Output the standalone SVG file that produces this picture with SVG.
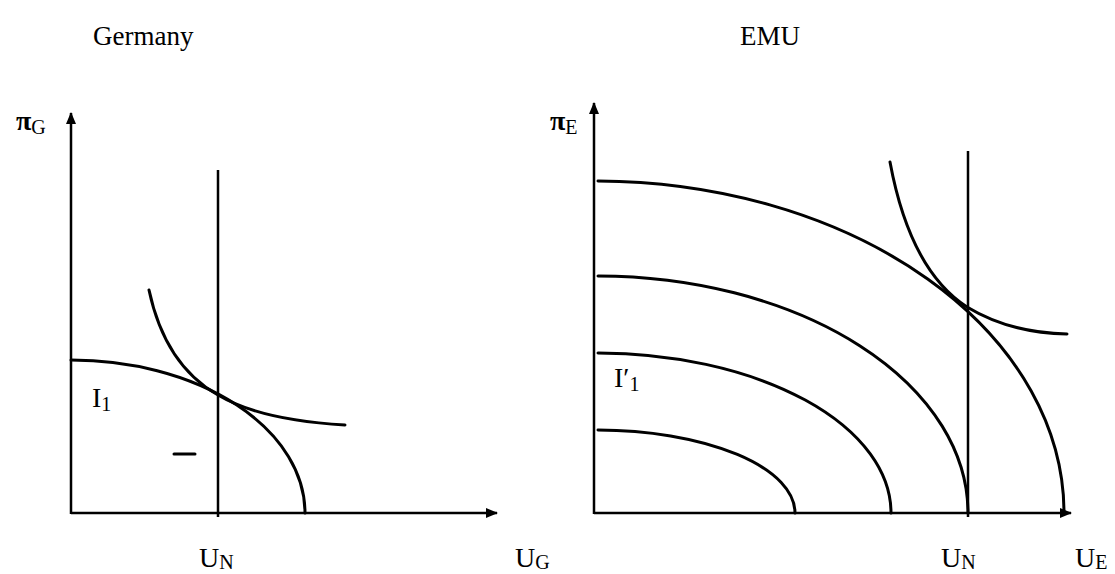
<svg xmlns="http://www.w3.org/2000/svg" width="1115" height="574" viewBox="0 0 1115 574">
<defs>
<marker id="ah" viewBox="0 0 12 10" refX="11" refY="5" markerWidth="12" markerHeight="10" markerUnits="userSpaceOnUse" orient="auto">
<path d="M0,0 L12,5 L0,10 Z" fill="#000"/>
</marker>
</defs>
<style>
text{font-family:"Liberation Serif","Times New Roman",serif;fill:#000}
.t{font-size:27px}
.l{font-size:28px}
.p{font-size:28px;font-weight:bold}
.s{font-size:20px}
.ax{stroke:#000;stroke-width:2.5;fill:none}
.c{stroke:#000;stroke-width:3;fill:none;stroke-linecap:round}
</style>
<rect width="1115" height="574" fill="#fff"/>
<g id="titles">
<text class="t" x="93" y="45">Germany</text>
<text class="t" x="740" y="45">EMU</text>
</g>
<g id="connectors">
<line id="g-yaxis" class="ax" x1="71" y1="514" x2="71" y2="113" marker-end="url(#ah)"/>
<line id="g-xaxis" class="ax" x1="71" y1="513" x2="497" y2="513" marker-end="url(#ah)"/>
<line id="g-un" class="ax" x1="218" y1="170" x2="218" y2="517" stroke-width="3"/>
<line id="e-yaxis" class="ax" x1="594" y1="514" x2="594" y2="103" marker-end="url(#ah)"/>
<line id="e-xaxis" class="ax" x1="594" y1="513" x2="1071" y2="513" marker-end="url(#ah)"/>
<line id="e-un" class="ax" x1="968" y1="151" x2="968" y2="517" stroke-width="3"/>
</g>
<g id="germany-curves">
<path class="c" d="M71,360 A234,153 0 0 1 305,513"/>
<path class="c" d="M149,290 Q165,365 218,395 Q260,420 345,425"/>
<line class="c" x1="174" y1="454" x2="195" y2="454"/>
</g>
<g id="emu-curves">
<path class="c" d="M598,181 A469,332 0 0 1 1064,513"/>
<path class="c" d="M598,276 A371,237 0 0 1 968,513"/>
<path class="c" d="M598,353 A294,160 0 0 1 891,513"/>
<path class="c" d="M598,430 A198,83 0 0 1 795,513"/>
<path class="c" d="M890,162 Q910,270 967,307 Q1010,333 1067,334"/>
</g>
<g id="labels">
<text x="16" y="130"><tspan class="p">π</tspan><tspan class="s" dy="4">G</tspan></text>
<text x="550" y="130"><tspan class="p">π</tspan><tspan class="s" dy="4">E</tspan></text>
<text class="l" x="92" y="407">I<tspan class="s" dy="4">1</tspan></text>
<text class="l" x="614" y="387">I′<tspan class="s" dy="4">1</tspan></text>
<text class="l" x="199" y="567">U<tspan class="s" dy="2">N</tspan></text>
<text class="l" x="515" y="567">U<tspan class="s" dy="2">G</tspan></text>
<text class="l" x="941" y="567">U<tspan class="s" dy="2">N</tspan></text>
<text class="l" x="1075" y="567">U<tspan class="s" dy="2">E</tspan></text>
</g>
</svg>
